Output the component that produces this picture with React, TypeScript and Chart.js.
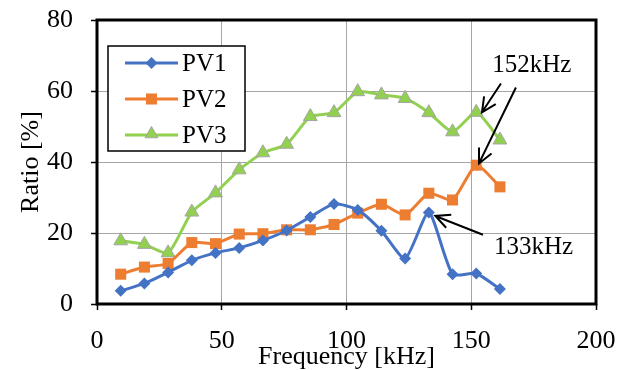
import React, { useEffect, useRef } from 'react';
import { Chart, registerables } from 'chart.js';
import { drawPoint } from 'chart.js/helpers';

Chart.register(...registerables);

// ---- data ----
const frequencies = [9.5, 19, 28.5, 38, 47.5, 57, 66.5, 76, 85.5, 95, 104.5, 114, 123.5, 133, 142.5, 152, 161.5];
const pv1 = [3.7, 5.8, 8.9, 12.3, 14.4, 15.8, 17.9, 20.7, 24.5, 28.2, 26.5, 20.6, 12.8, 25.8, 8.4, 8.6, 4.2];
const pv2 = [8.4, 10.4, 11.4, 17.3, 17.0, 19.7, 19.8, 20.9, 20.9, 22.4, 25.6, 28.1, 25.1, 31.2, 29.3, 39.1, 33.0];
const pv3 = [17.8, 16.8, 14.4, 25.9, 31.3, 37.8, 42.6, 45.0, 52.8, 53.9, 59.8, 58.9, 57.9, 53.9, 48.5, 54.0, 46.2];
const seriesNames = ['PV1', 'PV2', 'PV3'];
const xTicks = [0, 50, 100, 150, 200];
const yTicks = [0, 20, 40, 60, 80];
const xTitle = 'Frequency [kHz]';
const yTitle = 'Ratio [%]';
const annotationLabels = ['152kHz', '133kHz'];

const FONT = "'Liberation Serif', 'Times New Roman', serif";

// annotation layout (data coordinates)
const annotationTexts = [
  { text: annotationLabels[0], x: 174.3, y: 67.2 },
  { text: annotationLabels[1], x: 175, y: 15.9 },
];
const annotationArrows = [
  { from: [161.9, 62.1], to: [154.3, 54.0] },
  { from: [167.9, 61.0], to: [153.1, 39.6] },
  { from: [154.7, 19.5], to: [135.6, 24.8] },
];

const styles = [
  { color: '#4472C4', fill: '#4472C4', border: '#4472C4', pointStyle: 'rectRot', radius: 6, borderWidth: 0 },
  { color: '#ED7D31', fill: '#ED7D31', border: '#ED7D31', pointStyle: 'rect', radius: 7.8, borderWidth: 0 },
  { color: '#92D050', fill: '#92D050', border: '#A5A5A5', pointStyle: 'triangle', radius: 8, borderWidth: 1 },
];

const extrasPlugin = {
  id: 'extras',
  beforeDatasetsDraw(chart: any) {
    const { ctx, chartArea: a } = chart;
    ctx.save();
    ctx.strokeStyle = '#000';
    ctx.lineWidth = 3;
    ctx.strokeRect(a.left, a.top, a.right - a.left, a.bottom - a.top);
    ctx.restore();
  },
  afterDraw(chart: any) {
    const { ctx, chartArea: a, scales } = chart;
    const xs = scales.x;
    const ys = scales.y;
    ctx.save();
    // legend
    const lx = a.left + 11;
    const ly = a.top + 26;
    ctx.fillStyle = '#fff';
    ctx.fillRect(lx, ly, 137, 105);
    ctx.strokeStyle = '#000';
    ctx.lineWidth = 1.5;
    ctx.strokeRect(lx, ly, 137, 105);
    chart.data.datasets.forEach((ds: any, i: number) => {
      const st = styles[i];
      const cy = ly + 17 + i * 36;
      ctx.strokeStyle = st.color;
      ctx.lineWidth = 3;
      ctx.beginPath();
      ctx.moveTo(lx + 17, cy);
      ctx.lineTo(lx + 70, cy);
      ctx.stroke();
      ctx.fillStyle = st.fill;
      ctx.strokeStyle = st.border;
      ctx.lineWidth = st.borderWidth || 1;
      drawPoint(ctx, { pointStyle: st.pointStyle, radius: st.pointStyle === 'triangle' ? 7.5 : st.radius, borderWidth: st.borderWidth, rotation: 0 } as any, lx + 43.5, st.pointStyle === 'triangle' ? cy - 1 : cy);
      ctx.fillStyle = '#000';
      ctx.font = `25px ${FONT}`;
      ctx.textAlign = 'left';
      ctx.textBaseline = 'middle';
      ctx.fillText(ds.label, lx + 74, cy + 1);
    });
    // annotations
    ctx.fillStyle = '#000';
    ctx.font = `25px ${FONT}`;
    ctx.textAlign = 'center';
    ctx.textBaseline = 'middle';
    annotationTexts.forEach((t) => {
      ctx.fillText(t.text, xs.getPixelForValue(t.x), ys.getPixelForValue(t.y));
    });
    ctx.strokeStyle = '#000';
    ctx.lineWidth = 2;
    annotationArrows.forEach((ar) => {
      const x1 = xs.getPixelForValue(ar.from[0]);
      const y1 = ys.getPixelForValue(ar.from[1]);
      const x2 = xs.getPixelForValue(ar.to[0]);
      const y2 = ys.getPixelForValue(ar.to[1]);
      const ang = Math.atan2(y2 - y1, x2 - x1);
      ctx.beginPath();
      ctx.moveTo(x1, y1);
      ctx.lineTo(x2, y2);
      const L = 16;
      const sp = 0.45;
      ctx.moveTo(x2 - L * Math.cos(ang - sp), y2 - L * Math.sin(ang - sp));
      ctx.lineTo(x2, y2);
      ctx.lineTo(x2 - L * Math.cos(ang + sp), y2 - L * Math.sin(ang + sp));
      ctx.stroke();
    });
    ctx.restore();
  },
};

export default function App() {
  const ref = useRef<HTMLCanvasElement | null>(null);
  useEffect(() => {
    if (!ref.current) return;
    const series = [pv1, pv2, pv3];
    const chart = new Chart(ref.current, {
      type: 'line',
      data: {
        datasets: series.map((ys, i) => ({
          label: seriesNames[i],
          data: frequencies.map((f, j) => ({ x: f, y: ys[j] })),
          borderColor: styles[i].color,
          backgroundColor: styles[i].fill,
          pointBorderColor: styles[i].border,
          pointBackgroundColor: styles[i].fill,
          pointStyle: styles[i].pointStyle as any,
          pointRadius: styles[i].radius,
          pointBorderWidth: styles[i].borderWidth,
          borderWidth: 3,
          tension: 0.2,
          fill: false,
          clip: false as any,
        })),
      },
      options: {
        animation: false,
        responsive: true,
        maintainAspectRatio: false,
        layout: { padding: { top: 20, right: 31, left: 0, bottom: 0 } },
        plugins: { legend: { display: false }, tooltip: { enabled: false } },
        scales: {
          x: {
            type: 'linear',
            min: 0,
            max: 200,
            afterFit: (s: any) => { s.height = 66; s.paddingLeft = 0; s.paddingRight = 0; },
            afterBuildTicks: (s: any) => { s.ticks = xTicks.map((v) => ({ value: v })); },
            ticks: { font: { family: FONT, size: 26 }, color: '#000', padding: 16, maxRotation: 0, autoSkip: false },
            grid: { color: '#A6A6A6', lineWidth: 1, tickColor: '#000', tickLength: 6, tickWidth: 1.5 } as any,
            border: { display: false },
            title: { display: true, text: xTitle, color: '#000', font: { family: FONT, size: 26, lineHeight: 1 }, padding: 0 },
          },
          y: {
            type: 'linear',
            min: 0,
            max: 80,
            afterFit: (s: any) => { s.width = 97; s.paddingTop = 0; s.paddingBottom = 0; },
            afterBuildTicks: (s: any) => { s.ticks = yTicks.map((v) => ({ value: v })); },
            ticks: { font: { family: FONT, size: 26 }, color: '#000', padding: 18, autoSkip: false },
            grid: { color: '#A6A6A6', lineWidth: 1, tickColor: '#000', tickLength: 6, tickWidth: 1.5 } as any,
            border: { display: false },
            title: { display: true, text: yTitle, color: '#000', font: { family: FONT, size: 26, lineHeight: 1 }, padding: { top: 18, bottom: 0 } },
          },
        },
      },
      plugins: [extrasPlugin],
    });
    return () => chart.destroy();
  }, []);
  return (
    <div style={{ position: 'absolute', left: 0, top: 0, width: 627, height: 370, background: '#fff' }}>
      <canvas ref={ref} />
    </div>
  );
}
